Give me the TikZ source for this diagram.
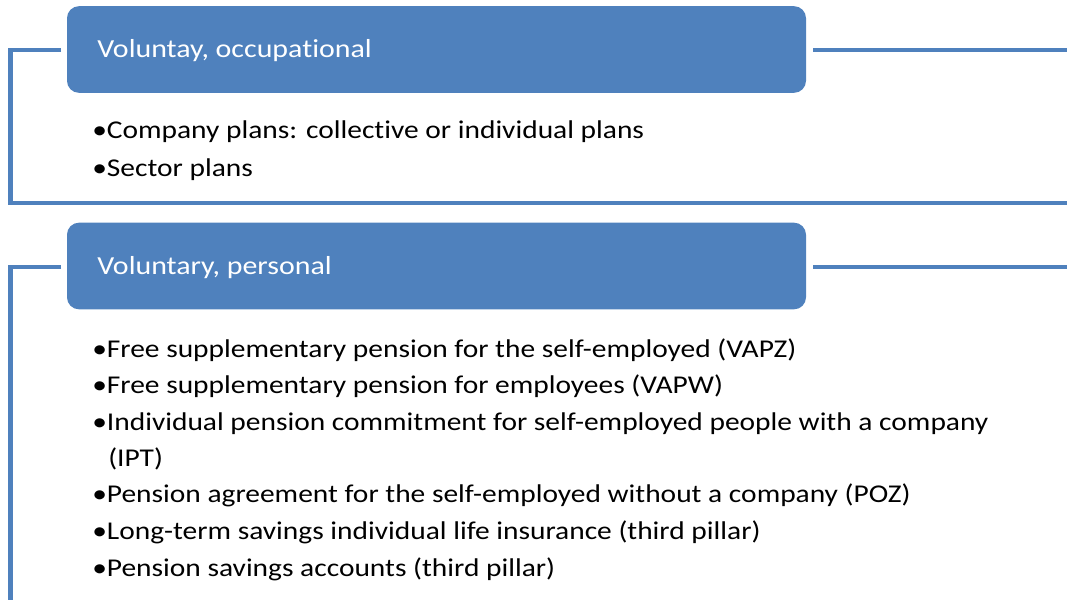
\documentclass[tikz,border=0pt]{standalone}
\usepackage{fontspec}
\setmainfont[FakeStretch=1.15,Ligatures=NoCommon]{Carlito}
\definecolor{offblue}{HTML}{4F81BD}
\begin{document}
\begin{tikzpicture}[x=0.75pt,y=-0.75pt,
  header/.style={draw=none,fill=offblue,rounded corners=9pt,minimum width=554.25pt,minimum height=65pt,inner sep=0pt},
  frameline/.style={draw=offblue,line width=3.6pt},
  title/.style={anchor=base west,inner sep=0pt,text=white,font=\fontsize{19.5}{23}\selectfont},
  item/.style={anchor=base west,inner sep=0pt,font=\fontsize{19.2}{22}\selectfont}]
\useasboundingbox (0,0) rectangle (1067,600);
% Box 1
\node[header] (h1) at (436.5,49.5) {};
\coordinate (l1a) at (61,50);
\coordinate (l1b) at (10.5,50);
\coordinate (l1c) at (10.5,203);
\coordinate (l1d) at (1067,203);
\coordinate (r1a) at (813,50);
\coordinate (r1b) at (1067,50);
\draw[frameline] (l1a) -- (l1b) -- (l1c) -- (l1d);
\draw[frameline] (r1a) -- (r1b);
\node[title] (t1) at (97,57) {Voluntay, occupational};
\node[item] (i11) at (92,138) {•Company plans: collective or individual plans};
\node[item] (i12) at (92,176) {•Sector plans};
% Box 2
\node[header] (h2) at (436.5,266) {};
\coordinate (l2a) at (61,267);
\coordinate (l2b) at (10.5,267);
\coordinate (l2c) at (10.5,600);
\coordinate (r2a) at (813,267);
\coordinate (r2b) at (1067,267);
\draw[frameline] (l2a) -- (l2b) -- (l2c);
\draw[frameline] (r2a) -- (r2b);
\node[title] (t2) at (97,274) {Voluntary, personal};
\node[item] (i21) at (92,357) {•Free supplementary pension for the self-employed (VAPZ)};
\node[item] (i22) at (92,393) {•Free supplementary pension for employees (VAPW)};
\node[item] (i23) at (92,430) {•Individual pension commitment for self-employed people with a company};
\node[item] (i23b) at (108,466) {(IPT)};
\node[item] (i24) at (92,502) {•Pension agreement for the self-employed without a company (POZ)};
\node[item] (i25) at (92,539) {•Long-term savings individual life insurance (third pillar)};
\node[item] (i26) at (92,576) {•Pension savings accounts (third pillar)};
\end{tikzpicture}
\end{document}
